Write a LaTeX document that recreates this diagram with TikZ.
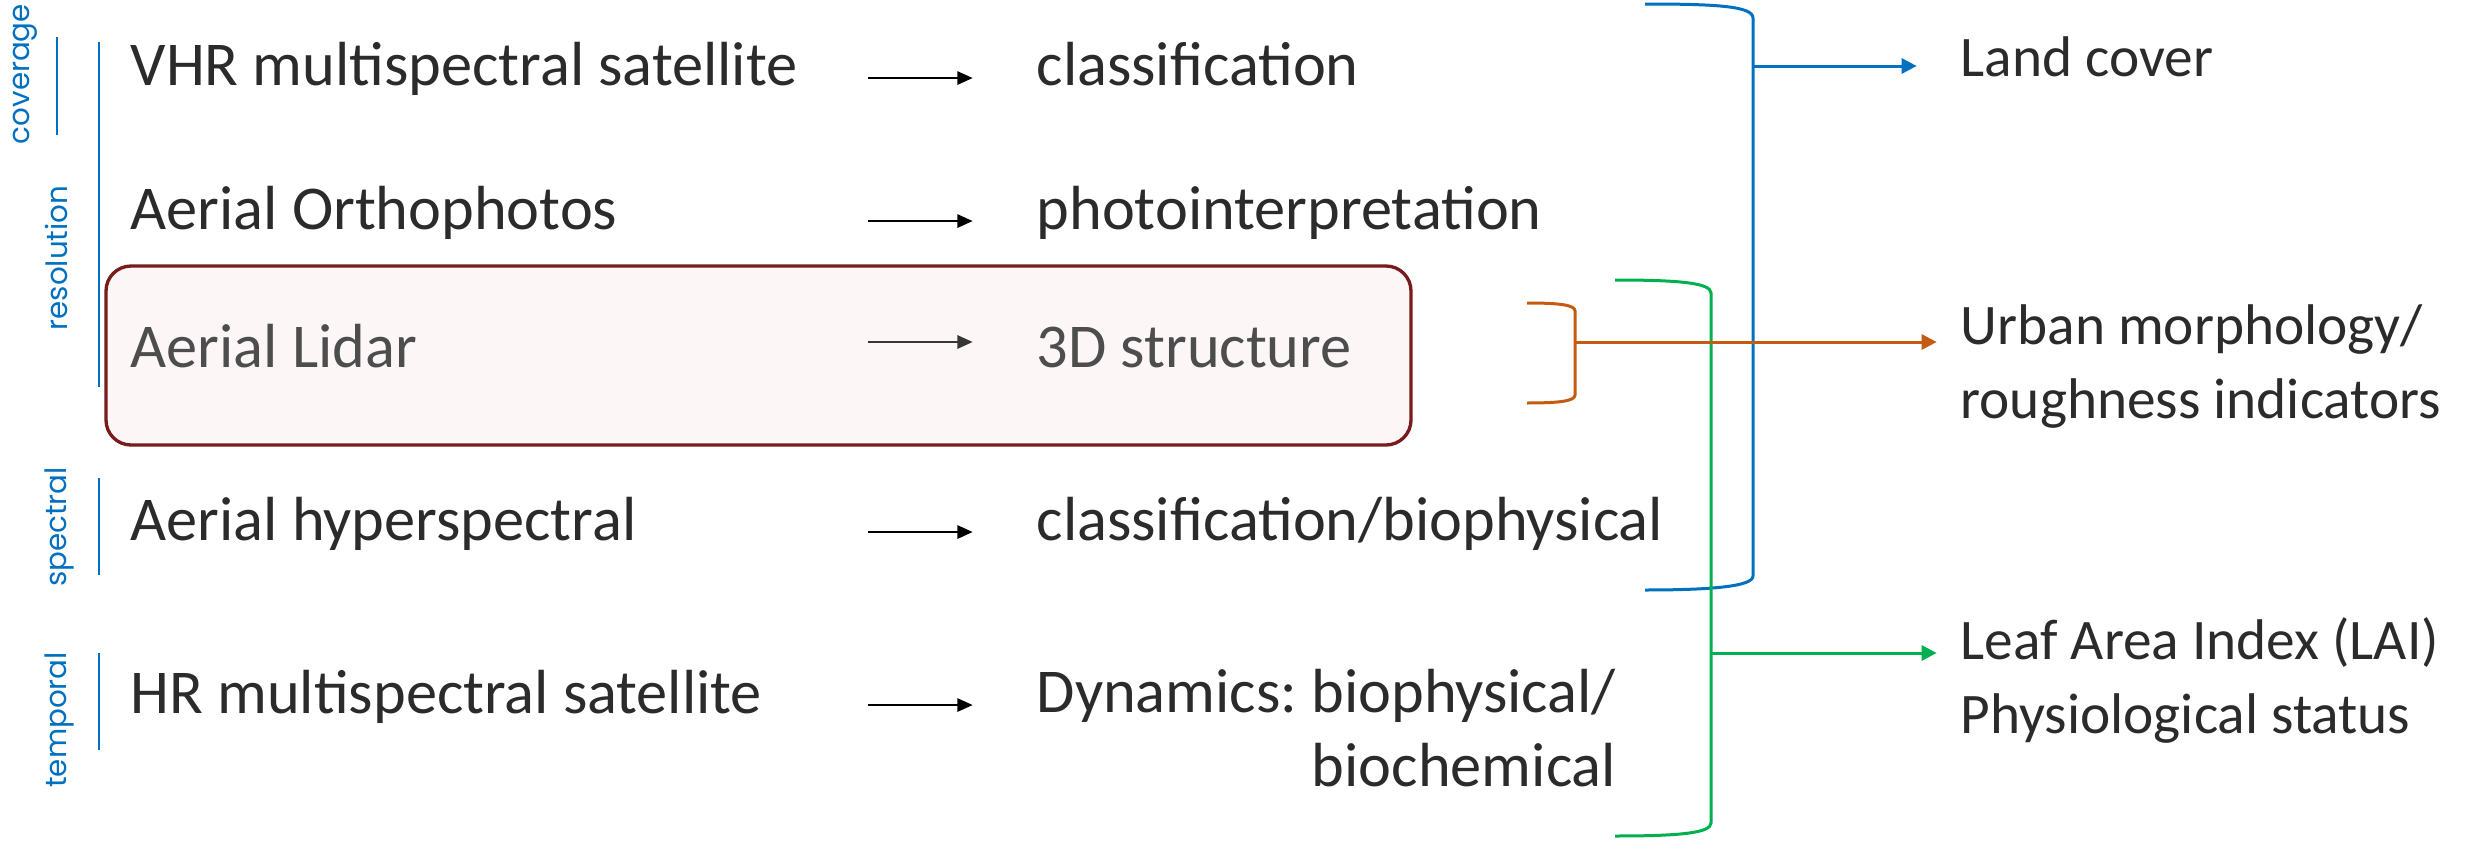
\documentclass[tikz,border=0pt]{standalone}
\usepackage{fontspec}
\setmainfont{Carlito}
\newfontfamily\tagfont{Poppins}
\usepackage{tikz}
\definecolor{TagBlue}{HTML}{0070C0}
\definecolor{LinkGreen}{HTML}{00B050}
\definecolor{LinkOrange}{HTML}{C55A11}
\definecolor{BoxRed}{HTML}{771B1B}
\definecolor{BoxFill}{HTML}{FCF6F6}
\definecolor{InkGrey}{HTML}{2B2B2B}
\definecolor{SoftGrey}{HTML}{4D4D4D}
\usetikzlibrary{fit,calc,arrows.meta,backgrounds,positioning,shapes}
\frenchspacing

\begin{document}
\begin{tikzpicture}[x=0.3pt, y=-0.3pt,
  txt/.style={anchor=base west, inner sep=0pt, font=\fontsize{18.7}{22}\selectfont, text=InkGrey},
  result/.style={txt, font=\fontsize{17.2}{22}\selectfont},
  tag/.style={rotate=90, anchor=base, inner sep=0pt, font=\tagfont\fontsize{8.8}{10}\selectfont, text=TagBlue},
  pointer/.style={-{Triangle[length=4.6pt,width=4pt]}, line width=0.6pt, shorten >=19pt},
  link/.style={-{Triangle[length=4.5pt,width=4.5pt]}, line width=0.9pt},
  brace/.style={line width=0.9pt}]

 \useasboundingbox (0,0) rectangle (2473,841);

 % highlighted lidar row
 \draw[BoxRed, fill=BoxFill, line width=1pt, rounded corners=7.5pt] (106,266) rectangle (1411,445);

 % dimension tags
 \node[tag] (tcov) at (29,74) {coverage};
 \node[tag] (tres) at (68,258) {resolution};
 \node[tag] (tspe) at (67,527) {spectral};
 \node[tag] (ttem) at (67,720) {temporal};
 \draw[TagBlue, line width=0.6pt] (57,37) -- (57,135);
 \draw[TagBlue, line width=0.6pt] (99,42) -- (99,387);
 \draw[TagBlue, line width=0.6pt] (99,478) -- (99,575);
 \draw[TagBlue, line width=0.6pt] (99,653) -- (99,750);

 % sensors
 \node[txt] (vhr) at (130,86) {VHR multispectral satellite};
 \node[txt] (ortho) at (130,229) {Aerial Orthophotos};
 \node[txt, text=SoftGrey] (lidar) at (130,367) {Aerial Lidar};
 \node[txt] (hyper) at (130,540) {Aerial hyperspectral};
 \node[txt] (hrs) at (130,713) {HR multispectral satellite};

 % products
 \node[txt] (cls) at (1036,86) {classification};
 \node[txt] (photo) at (1036,229) {photointerpretation};
 \node[txt, text=SoftGrey] (struct) at (1036,367) {3D structure};
 \node[txt] (clsbio) at (1036,540) {classification/biophysical};
 \node[txt, align=right] (dyn) at (1036,786) {Dynamics: biophysical/\\biochemical};

 \coordinate (acol) at (868,0);
 \coordinate (lidrow) at (868,342);
 \draw[pointer] (acol |- vhr.mid west) -- (cls.west |- vhr.mid west);
 \draw[pointer] (acol |- ortho.mid west) -- (photo.west |- ortho.mid west);
 \draw[pointer, draw=SoftGrey!70!black] (lidrow) -- (lidrow -| struct.west);
 \draw[pointer] (acol |- hyper.mid west) -- (clsbio.west |- hyper.mid west);
 \draw[pointer] (acol |- hrs.mid west) -- (dyn.west |- hrs.mid west);

 % outcomes
 \node[result] (land) at (1960,77) {Land cover};
 \node[result, align=left] (urban) at (1960,418) {Urban morphology/\\roughness indicators};
 \node[result, align=left] (leaf) at (1960,733) {Leaf Area Index (LAI)\\Physiological status};

 % brackets
 \draw[brace, TagBlue] (1645,4) .. controls (1715,4) and (1753,6) .. (1753,18) -- (1753,576) .. controls (1753,586) and (1715,590) .. (1645,590);
 \draw[brace, LinkGreen] (1615,280) .. controls (1680,280) and (1711,283) .. (1711,293) -- (1711,823) .. controls (1711,833) and (1680,836) .. (1615,836);
 \coordinate (bluemid) at (1753,66);
 \coordinate (grnmid) at (1711,653);
 \coordinate (orgmid) at (1575,342);
 \draw[link, TagBlue, shorten >=13pt] (bluemid) -- (bluemid -| land.west);
 \draw[link, LinkGreen, shorten >=7pt] (grnmid) -- (grnmid -| leaf.west);
 \draw[brace, LinkOrange] (1527,303) .. controls (1560,303) and (1575,305) .. (1575,311) -- (1575,395) .. controls (1575,401) and (1560,403) .. (1527,403);
 \draw[link, LinkOrange, shorten >=7pt] (orgmid) -- (orgmid -| urban.west);

\end{tikzpicture}
\end{document}
